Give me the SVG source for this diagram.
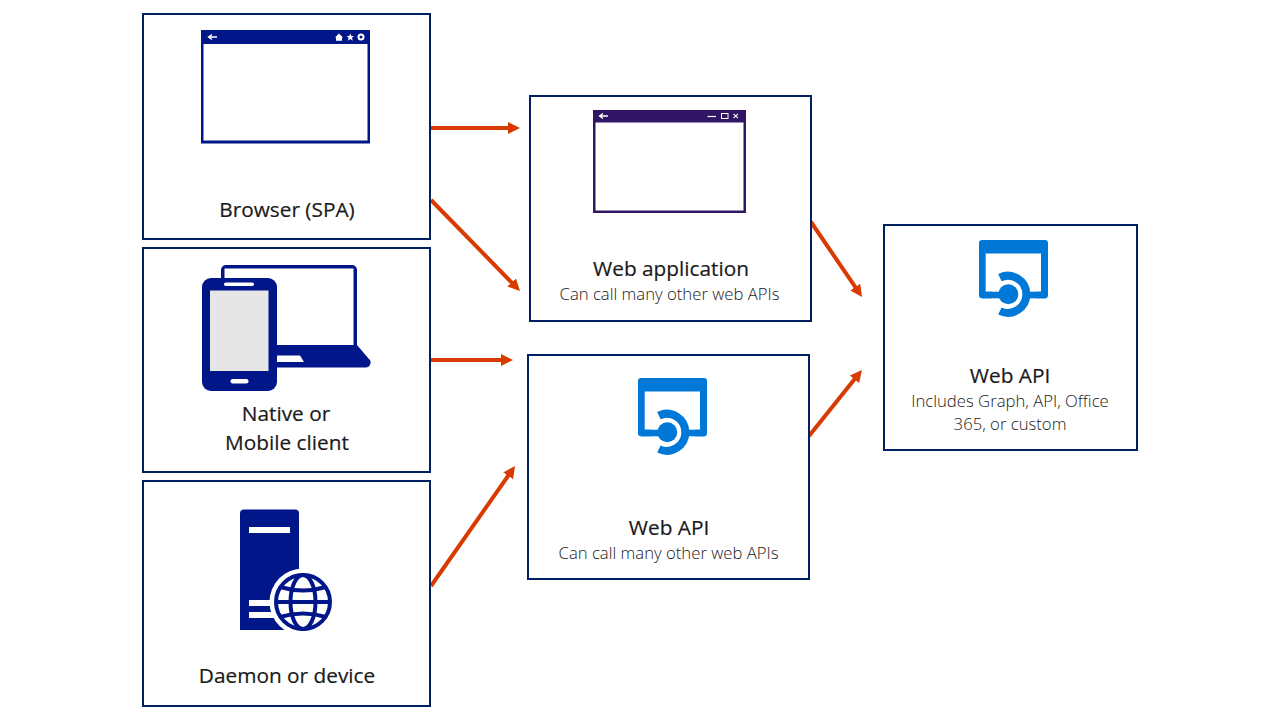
<svg xmlns="http://www.w3.org/2000/svg" width="1280" height="720" viewBox="0 0 1280 720">
<style>
.box{fill:#fff;stroke:#002060;stroke-width:2}
.ar{fill:none;stroke:#D83B01;stroke-width:4;marker-end:url(#ah)}
.t{font-family:"Open Sans","Noto Sans",sans-serif;fill:#1a1a1a;text-anchor:middle}
.h{font-size:20.8px;stroke:#1a1a1a;stroke-width:.2}
.s{font-size:16.7px;font-weight:300;fill:#1a1a1a}
.navy{fill:#001689}
.az{fill:#0078D7}
</style>
<defs>
<marker id="ah" markerUnits="userSpaceOnUse" markerWidth="14" markerHeight="14" refX="2" refY="6" orient="auto"><path d="M0 0L12 6L0 12z" fill="#D83B01"/></marker>
<g id="apiicon">
<path class="az" fill-rule="evenodd" d="M982 240H1045a3 3 0 0 1 3 3V295.300a3 3 0 0 1 -3 3H982a3 3 0 0 1 -3 -3V243a3 3 0 0 1 3 -3zM985.700 253.500V291.700H1041V253.500z"/>
<path d="M992 300V268L1012 266L1036 290V300L1012 324L992 322z" fill="#fff"/>
<rect class="az" x="982" y="291.700" width="20" height="6.600"/>
<rect class="az" x="1028" y="291.700" width="18" height="6.600"/>
<circle class="az" cx="1008.300" cy="294.300" r="10"/>
<path d="M999.900 277.600A18.500 18.500 0 1 1 999.900 311" fill="none" stroke="#0078D7" stroke-width="8"/>
</g>
</defs>

<g id="connectors">
<path class="ar" d="M431 128H510"/>
<path class="ar" d="M431 200L513 283.850"/>
<path class="ar" d="M431 360H503"/>
<path class="ar" d="M431 586L509.300 474.200"/>
<path class="ar" d="M811 222L856.400 288.700"/>
<path class="ar" d="M809 436L855.700 377.800"/>
</g>

<g id="browser">
<rect class="box" x="143" y="14" width="287" height="225"/>
<rect class="navy" x="201" y="30" width="169" height="113.500"/>
<rect x="203.500" y="44" width="164" height="96.500" fill="#fff"/>
<path d="M217 37H209M212 34.500L208.500 37L212 39.500" fill="none" stroke="#fff" stroke-width="1.300"/>
<path d="M335 37.500L339 33.500L343 37.500H342V40.800H336V37.500z" fill="#fff"/>
<path d="M350.300 33.500L351.400 36H354L352 37.800L352.800 40.700L350.300 39.100L347.800 40.700L348.600 37.800L346.600 36H349.200z" fill="#fff"/>
<circle cx="361" cy="37" r="2.500" fill="none" stroke="#fff" stroke-width="2"/>
<text class="t h" x="287" y="216.500">Browser (SPA)</text>
</g>

<g id="native">
<rect class="box" x="143" y="248" width="287" height="224"/>
<path d="M221 278V270a5 5 0 0 1 5 -5H352a5 5 0 0 1 5 5V346H274V278z" class="navy"/>
<rect x="224.500" y="268.500" width="129" height="76.500" fill="#fff"/>
<path d="M270 345H357L368.500 358.500a5 5 0 0 1 -3.500 9H270z" class="navy"/>
<path d="M275 355.500H300L304 362H275z" fill="#fff"/>
<rect class="navy" x="202" y="278" width="75" height="113" rx="9"/>
<rect x="210" y="290.500" width="58.500" height="80.500" fill="#E6E6E6"/>
<rect x="224" y="282.500" width="30" height="3.500" rx="1.700" fill="#fff"/>
<rect x="230.500" y="379" width="18" height="4.500" rx="2.200" fill="#fff"/>
<text class="t h" x="286" y="421">Native or</text>
<text class="t h" x="287" y="450">Mobile client</text>
</g>

<g id="daemon">
<rect class="box" x="143" y="481" width="287" height="225"/>
<path class="navy" d="M244 509.500H295a4 4 0 0 1 4 4V630H240V513.500a4 4 0 0 1 4 -4z"/>
<rect x="249" y="527" width="41" height="6" fill="#fff"/>
<rect x="249" y="600" width="30" height="6" fill="#fff"/>
<rect x="249" y="612" width="30" height="6" fill="#fff"/>
<circle cx="303" cy="602" r="33.500" fill="#fff"/>
<g fill="none" stroke="#001689" stroke-width="4">
<circle cx="303" cy="602" r="27"/>
<ellipse cx="303" cy="602" rx="12.500" ry="27"/>
<path d="M276 602H330M280 587Q303 594 326 587M280 617Q303 610 326 617"/>
</g>
<text class="t h" x="287" y="683">Daemon or device</text>
</g>

<g id="webapp">
<rect class="box" x="530" y="96" width="281" height="225"/>
<rect x="593" y="110" width="153" height="103" fill="#2F1564"/>
<rect x="595.500" y="122.500" width="148" height="88" fill="#fff"/>
<path d="M608 116H600M603 113.500L599.500 116L603 118.500" fill="none" stroke="#fff" stroke-width="1.300"/>
<path d="M707.500 116.500H716" stroke="#fff" stroke-width="1.200"/>
<rect x="721.500" y="113.500" width="6.500" height="5" fill="none" stroke="#fff" stroke-width="1"/>
<path d="M733.500 113.800L738 118.200M738 113.800L733.500 118.200" stroke="#fff" stroke-width="1.100"/>
<text class="t h" x="671" y="275.500">Web application</text>
<text class="t s" x="669.500" y="299.500">Can call many other web APIs</text>
</g>

<g id="webapi-middle">
<rect class="box" x="528" y="355" width="281" height="224"/>
<use href="#apiicon" x="-341" y="138"/>
<text class="t h" x="669" y="534.500">Web API</text>
<text class="t s" x="668.500" y="558.500">Can call many other web APIs</text>
</g>

<g id="webapi-right">
<rect class="box" x="884" y="225" width="253" height="225"/>
<use href="#apiicon"/>
<text class="t h" x="1010" y="382.500">Web API</text>
<text class="t s" x="1010" y="407">Includes Graph, API, Office</text>
<text class="t s" x="1010" y="430">365, or custom</text>
</g>
</svg>
